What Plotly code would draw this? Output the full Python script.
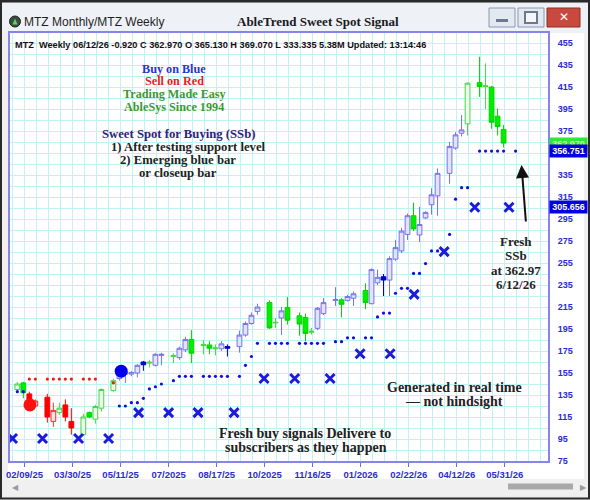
import plotly.graph_objects as go

# ── Weekly bars: slot on the x axis (empty slots have no bar) ──────────────
slots = [0, 1, 2, 3, 5, 6, 7, 8, 9, 11, 12, 13, 14, 16, 17, 18, 19, 20, 21, 22,
         23, 24, 26, 27, 28, 29, 31, 32, 33, 34, 35, 37, 38, 39, 40, 42, 43, 44,
         45, 47, 48, 49, 50, 51, 53, 54, 55, 56, 58, 59, 60, 61, 62, 63, 64, 65,
         66, 67, 68, 69, 70, 72, 73, 74, 75, 77, 78, 79, 80, 81, 83]
opens = [140, 146, 136, 125, 133, 111, 119, 126, 111, 99, 119, 113, 123, 139, 150,
         154, 154, 155, 165, 164, 162, 171, 170, 169, 176, 185.5, 180, 180.5, 177,
         177, 179, 179, 189.5, 200, 211, 219, 200.5, 205, 214.5, 207, 205.5, 192,
         195.6, 209, 221, 221.5, 221, 223, 230, 218, 237, 242.5, 239.5, 258.5, 266,
         281, 298, 280.5, 296, 308, 316, 336.5, 359.5, 373, 381.5, 419, 415.5, 415,
         388.5, 376.5, 365.13]
highs = [147, 147, 138, 131, 136, 128, 128, 131, 123, 118, 120, 126, 141, 150, 158,
         158, 157, 163, 166, 167, 173, 173.5, 173, 179, 188, 194, 185, 184, 181,
         184, 181, 193.5, 202, 210, 218, 221, 205, 215, 224, 210, 209, 196, 215,
         223, 233, 223, 226, 229, 236.5, 250, 249, 245, 261, 276, 287, 300, 310,
         306, 302, 323, 341, 365, 374, 389.5, 419, 442.5, 436.5, 416, 395.5, 380.5,
         369.07]
lows = [137, 132, 122, 124, 110, 106, 117, 111, 99, 98, 114, 109, 120, 138, 148,
        146, 152, 151, 157, 160, 161, 162, 164, 167, 174, 164, 172, 172, 171, 175,
        170, 173.5, 188, 199, 208, 195, 196, 189.5, 199, 189, 184, 190, 194, 207.7,
        216, 205.5, 220, 216, 213, 217.5, 235, 225, 225, 257, 264, 276, 284, 274,
        295, 299, 298, 327, 358, 370, 371, 406, 395, 377, 371, 360, 333.335]
closes = [145, 137, 125, 129.5, 115, 121, 123, 115, 105, 115, 115, 124.5, 140, 148,
          157, 156, 155.5, 162, 162.5, 164.8, 172, 172, 171, 177.5, 185.5, 173,
          180.8, 177.5, 177.8, 181.5, 177.5, 189.5, 200, 207.5, 215, 196, 201,
          211.5, 203, 199.5, 191, 193, 213.8, 219, 221.8, 217.5, 224.5, 227, 219,
          249, 242, 239.5, 259, 269, 284, 298, 286, 290, 301, 317, 336.5, 361,
          371.5, 376, 418.5, 415.5, 416, 383, 379, 364, 362.97]
# AbleTrend bar colour: b = blue (up trend), g = green (neutral), r = red (down)
trend = list("ggrrrrgrrgggggbbbbbgbbgbbggggbbbbbbgg"
             "bggggbbbgbbgbbbbbbbgbbbbbbbgggggg")

# ── Stops ───────────────────────────────────────────────────────────────────
stop_slots = [0, 1, 17, 18, 19, 20, 21, 22, 23, 24, 26, 27, 28, 29, 31, 32, 33, 34,
              35, 37, 38, 39, 40, 42, 43, 44, 45, 47, 48, 49, 50, 51, 53, 54, 55,
              56, 58, 59, 60, 61, 62, 63, 64, 65, 66, 67, 68, 69, 70, 72, 73, 74,
              75, 77, 78, 79, 80, 81, 83]
stop_levels = [138, 138, 125, 125, 128, 128, 132, 140.5, 142.5, 145, 148, 152, 152,
               152, 152, 152, 152, 152, 152, 152, 162, 170, 182, 182, 182, 182, 182,
               182, 182, 182, 182, 182, 183.5, 183.5, 187, 187, 187, 187, 206, 209.5,
               209.5, 227.5, 232, 232, 245.5, 245.5, 254.5, 266, 266, 281, 313,
               323.5, 323.5, 356.751, 356.751, 356.751, 356.751, 356.751, 356.751]
resist_slots = [2, 3, 5, 6, 7, 8, 9, 11, 12, 13, 16]
resist_levels = [149.5, 149.5, 149.5, 149.5, 149.5, 149.5, 149.5, 149.5, 149.5,
                 149.5, 146]
month_slots = [-0.8, 4.2, 10.2, 15.2, 20.2, 25.2, 30.1, 36.1, 41.1, 46.2, 52.1,
               57.1, 62.1, 66.1, 71.1, 76.2, 81.9]
month_stops = [95.5, 95.5, 95.5, 95.5, 119, 119, 119, 119, 150, 150, 150, 172.5,
               172.5, 226.5, 265.3, 305.656, 305.656]

buy_slot, buy_price = 17.3, 156.7
sell_slot, sell_price = 2.1, 126

# ── Axis labels ─────────────────────────────────────────────────────────────
date_labels = ["02/09/25", "03/30/25", "05/11/25", "07/2025", "08/17/25", "10/2025",
               "11/16/25", "01/2026", "02/22/26", "04/12/26", "05/31/26"]
price_ticks = list(range(75, 456, 20))

header = ("MTZ  Weekly 06/12/26 -0.920 C 362.970 O 365.130 H 369.070 "
          "L 333.335 5.38M Updated: 13:14:46")

# ── Pixel helpers (figure is 590 x 500) ─────────────────────────────────────
W, H = 590, 500
PL, PR, PT, PB = 10, 548, 33, 461


def px(x):
    return (x - PL) / (PR - PL)


def py(y):
    return (PB - y) / (PB - PT)


shapes = []
annotations = []


def rect(x0, y0, x1, y1, fill, line=None, lw=0, layer="below"):
    shapes.append(dict(type="rect", xref="paper", yref="paper",
                       x0=px(x0), x1=px(x1), y0=py(y1), y1=py(y0),
                       fillcolor=fill, layer=layer,
                       line=dict(color=line or fill, width=lw)))


def label(x, y, text, size=12, color="#222", family="Liberation Serif",
          bold=True, anchor="center"):
    annotations.append(dict(
        xref="paper", yref="paper", x=px(x), y=py(y), text=text,
        showarrow=False, xanchor=anchor, yanchor="middle",
        font=dict(size=size, color=color, family=family,
                  weight="bold" if bold else "normal")))


fig = go.Figure()

# candles, one trace per AbleTrend colour
styles = {
    "b": dict(up_line="#7474e6", up_fill="#e2e2fb", dn_line="#0000cc", dn_fill="#0000dd"),
    "g": dict(up_line="#45d645", up_fill="#eefdee", dn_line="#00d400", dn_fill="#00ee00"),
    "r": dict(up_line="#ee3030", up_fill="#ffe2e2", dn_line="#ff0000", dn_fill="#ff0000"),
}
for code, st in styles.items():
    idx = [k for k, t in enumerate(trend) if t == code]
    fig.add_trace(go.Candlestick(
        x=[slots[k] for k in idx],
        open=[opens[k] for k in idx],
        high=[highs[k] for k in idx],
        low=[lows[k] for k in idx],
        close=[closes[k] for k in idx],
        increasing=dict(line=dict(color=st["up_line"], width=1), fillcolor=st["up_fill"]),
        decreasing=dict(line=dict(color=st["dn_line"], width=1), fillcolor=st["dn_fill"]),
        whiskerwidth=0, showlegend=False, hoverinfo="skip",
    ))

fig.add_trace(go.Scatter(x=stop_slots, y=stop_levels, mode="markers",
                         marker=dict(size=3.2, color="#1010dd"), hoverinfo="skip"))
fig.add_trace(go.Scatter(x=resist_slots, y=resist_levels, mode="markers",
                         marker=dict(size=3.2, color="#ee1c1c"), hoverinfo="skip"))
fig.add_trace(go.Scatter(x=month_slots, y=month_stops, mode="markers",
                         marker=dict(symbol="x-thin", size=9, color="#1c1cd8",
                                     line=dict(width=3, color="#1c1cd8")),
                         hoverinfo="skip"))
fig.add_trace(go.Scatter(x=[buy_slot], y=[buy_price], mode="markers",
                         marker=dict(size=13, color="#0000ee"), hoverinfo="skip"))
fig.add_trace(go.Scatter(x=[sell_slot], y=[sell_price], mode="markers",
                         marker=dict(size=13, color="#ff1010"), hoverinfo="skip"))

# ── Window chrome ───────────────────────────────────────────────────────────
rect(8, 31, 584, 479, "white")                      # chart panel
rect(0, 0, 590, 33, "#eef2f6")                      # title bar
rect(0, 0, 590, 2.5, "#1e1e1e", layer="above")
rect(3, 480, 586, 496, "#f0f0f0", layer="above")    # scrollbar track
rect(508, 483.5, 573, 489.5, "#a9a9a9", layer="above")
rect(489, 8, 515, 27, "#e3e9f0", "#8a98ab", 1, "above")
rect(496, 19, 508, 22, "#6b7a8d", layer="above")
rect(518, 8, 544, 27, "#e3e9f0", "#8a98ab", 1, "above")
rect(525, 12, 537, 23, "#f4f6f9", "#6b7a8d", 2, "above")
rect(547, 8, 580, 27, "#c84a3e", "#8a2d25", 1, "above")
shapes.append(dict(type="rect", xref="paper", yref="paper", x0=px(1), x1=px(589),
                   y0=py(498.5), y1=py(1), line=dict(color="#2a2a2a", width=2),
                   layer="above"))
shapes.append(dict(type="circle", xref="paper", yref="paper", x0=px(9.5), x1=px(20.5),
                   y0=py(27), y1=py(16), fillcolor="#3d4a44",
                   line=dict(color="#1c2420", width=1), layer="above"))
shapes.append(dict(type="path", xref="paper", yref="paper", layer="above",
                   path=f"M {px(12.5)} {py(24.5)} L {px(15)} {py(18.5)} "
                        f"L {px(17.5)} {py(24.5)} Z",
                   fillcolor="#5fd35f", line=dict(width=0)))

label(563.5, 17.5, "✕", size=12, color="white", family="DejaVu Sans")
label(10, 487, "◀", size=8, color="#9a9a9a", family="DejaVu Sans", anchor="left")
label(583, 487, "▶", size=8, color="#9a9a9a", family="DejaVu Sans")
label(22, 21.5, "MTZ Monthly/MTZ Weekly", size=12, color="#1e1e1e",
      family="Liberation Sans", bold=False, anchor="left")
label(318, 21.5, "AbleTrend Sweet Spot Signal", size=13, color="#1a1a1a")
label(13, 45.5, header, size=9.2, color="#111", family="Liberation Sans", anchor="left")

# ── Chart notes ─────────────────────────────────────────────────────────────
label(174, 69, "Buy on Blue", size=12.2, color="#2536d4")
label(174, 81.5, "Sell on Red", size=12.2, color="#ee1b1b")
label(174, 94, "Trading Made Easy", size=12.2, color="#3a9a2e")
label(174, 106.5, "AbleSys Since 1994", size=12.2, color="#3a9a2e")
label(178, 134, "Sweet Spot for Buying (SSb)", size=12.7, color="#262680")
label(188, 147, "1) After testing support level", size=12.7)
label(177.5, 160, "2) Emerging blue bar", size=12.7)
label(178, 172.5, "or closeup bar", size=12.7)
label(305, 433, "Fresh buy signals Delivere to", size=14)
label(305.5, 447, "subscribers as they happen", size=14)
label(454, 387, "Generated in real time", size=14)
label(454, 401.5, "— not hindsight", size=14)
for k, line in enumerate(["Fresh", "SSb", "at 362.97", "6/12/26"]):
    label(516, 241 + 14.5 * k, line, size=13)

annotations.append(dict(xref="paper", yref="paper", x=px(521.5), y=py(165),
                        ax=4.5, ay=58, showarrow=True, arrowhead=2, arrowsize=1.3,
                        arrowwidth=2, arrowcolor="#111", text=""))

# price flags on the right axis
for val, txt, bg, fc in [(closes[-1], "362.970", "#33e633", "#c8ff9a"),
                         (stop_levels[-1], "356.751", "#0000e0", "white"),
                         (month_stops[-1], "305.656", "#0000e0", "white")]:
    annotations.append(dict(xref="paper", yref="y", x=px(568), y=val, text=txt,
                            xanchor="center", yanchor="middle", showarrow=False,
                            bgcolor=bg, width=37, height=12, borderpad=0,
                            font=dict(size=9, color=fc, family="Liberation Sans",
                                      weight="bold")))

fig.update_layout(
    width=W, height=H,
    margin=dict(l=PL, r=W - PR, t=PT, b=H - PB, autoexpand=False),
    paper_bgcolor="#f0f0f0",
    plot_bgcolor="white",
    showlegend=False,
    boxgap=0.12, boxgroupgap=0.1,
    shapes=shapes,
    annotations=annotations,
    xaxis=dict(
        range=[-1.22, 88.4], rangeslider=dict(visible=False), automargin=False,
        tickvals=[1.2 + 8 * k for k in range(len(date_labels))], ticktext=date_labels,
        tickfont=dict(size=9.5, color="#2b2bd0", family="Liberation Sans", weight="bold"),
        ticks="outside", ticklen=4, tickcolor="#6f6fe0",
        showgrid=True, gridcolor="#bff2f2", gridwidth=1,
        minor=dict(tick0=1.2, dtick=2, showgrid=True, gridcolor="#bff2f2", ticks=""),
        showline=True, linecolor="#8484ec", linewidth=2, mirror=True,
        zeroline=False, fixedrange=True,
    ),
    yaxis=dict(
        range=[75, 464.1], side="right", automargin=False,
        tickvals=price_ticks,
        tickfont=dict(size=9, color="#2b2bd0", family="Liberation Sans", weight="bold"),
        ticklabelstandoff=6,
        showgrid=True, gridcolor="#bff2f2", gridwidth=1,
        minor=dict(dtick=10, tick0=75, showgrid=True, gridcolor="#bff2f2"),
        showline=True, linecolor="#8484ec", linewidth=2, mirror=True,
        zeroline=False, fixedrange=True,
    ),
)

# the page's default body margin would push the figure 8px off the window
fig.write_html("out.html", config={"displayModeBar": False},
               post_script="document.body.style.margin = '0';")
